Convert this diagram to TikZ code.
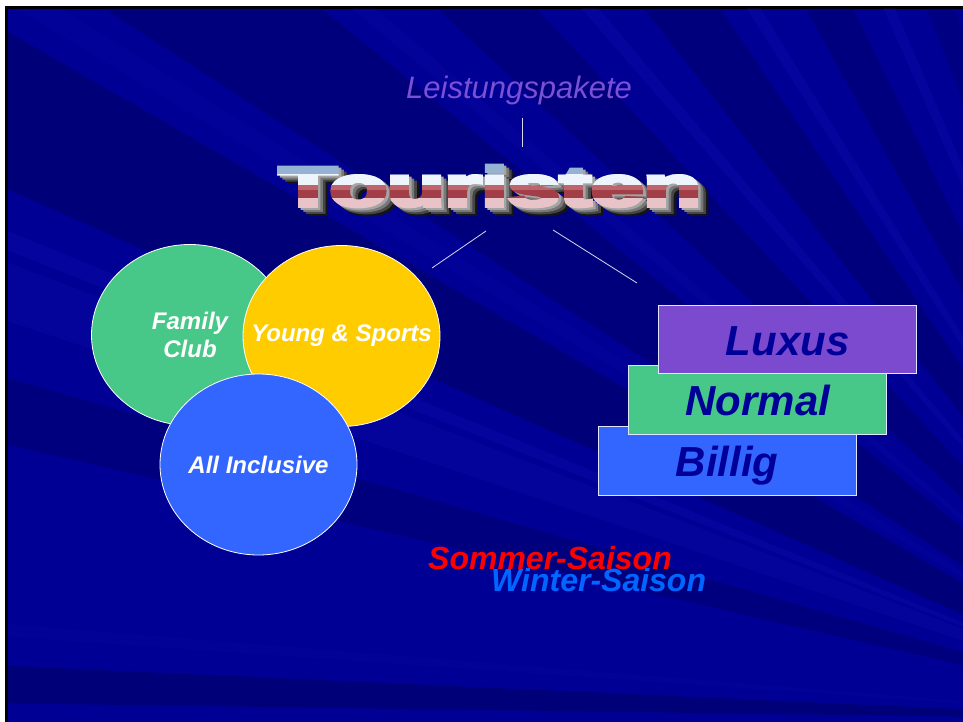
\documentclass[tikz,border=0pt]{standalone}
\usepackage{fontspec}
\setmainfont{Liberation Sans}
\usepackage{graphicx}
\usetikzlibrary{shapes.geometric}
\definecolor{bgblue}{HTML}{000094}
\definecolor{darkray}{HTML}{000050}
\definecolor{lightray}{HTML}{2A2AE0}
\definecolor{cgreen}{HTML}{48C888}
\definecolor{cyellow}{HTML}{FFCC00}
\definecolor{cblue}{HTML}{3366FF}
\definecolor{cpurple}{HTML}{7B4ACE}
\definecolor{navytext}{HTML}{000099}
\definecolor{lpurple}{HTML}{7A50D4}
\definecolor{wblue}{HTML}{0066FF}
\definecolor{lineclr}{HTML}{D8D8EC}
\newcommand{\tourword}{\fontsize{56}{60}\selectfont\bfseries\scalebox{1.68}[1]{\special{pdf:literal direct 2 Tr 3.6 w}Touristen\special{pdf:literal direct 0 Tr}}}
\tikzset{
  circ/.style={ellipse, draw=white, line width=0.8pt, inner sep=0pt,
    minimum width=197pt, minimum height=181pt},
  circtext/.style={text=white, align=center, inner sep=0pt,
    font=\fontsize{24}{28}\selectfont\bfseries\itshape},
  stackbox/.style={rectangle, draw=white!85!cblue, line width=1pt, inner sep=0pt,
    minimum width=257.7pt, minimum height=68.6pt, text height=31pt, text depth=0pt,
    text=navytext, font=\fontsize{42}{46}\selectfont\bfseries\itshape},
  conn/.style={draw=lineclr, line width=0.8pt},
  tword/.style={anchor=base west, inner sep=0pt},
  saison/.style={anchor=base west, inner sep=0pt, font=\fontsize{32}{36}\selectfont\bfseries\itshape}
}
\begin{document}
\begin{tikzpicture}[x=1pt,y=-1pt]
\useasboundingbox (0,0) rectangle (963,722);
% frame and background
\fill[white] (0,0) rectangle (963,722);
\fill[black] (5,6) rectangle (963,722);
\fill[bgblue] (8,9) rectangle (963,722);
\begin{scope}
  \clip (8,9) rectangle (963,722);
  \coordinate (F) at (1200,720);
  \foreach \a/\b/\c/\o in {
     180.8/182.6/darkray/0.4, 184/184.6/lightray/0.05,
     193/196/darkray/0.3, 198.5/201/lightray/0.1, 201.5/202.3/lightray/0.12,
     204/210/darkray/0.4, 211/212/lightray/0.07, 213/219/darkray/0.35,
     220/220.8/lightray/0.09, 223/227/darkray/0.3, 229/229.8/lightray/0.12,
     232/236/darkray/0.35, 237.5/238.3/lightray/0.13, 241/244/darkray/0.3,
     246/246.8/lightray/0.13, 249/251/darkray/0.25, 252/252.8/lightray/0.12}{
    \fill[\c, opacity=\o] (F) -- +(\a:2200) -- +(\b:2200) -- cycle;
  }
\end{scope}

% title above
\node[tword, text=lpurple, font=\fontsize{31}{36}\selectfont\itshape] (lp) at (406,99) {Leistungspakete};

% Touristen: extrusion
\foreach \k/\cc in {8/{rgb,255:red,20;green,20;blue,20}, 6/{rgb,255:red,70;green,70;blue,70},
                    4/{rgb,255:red,120;green,120;blue,120}, 2/{rgb,255:red,165;green,165;blue,165}}{
  \node[tword, text=\cc] (tx\k) at (279+1.3*\k,206+1.0*\k) {\tourword};
}
% Touristen: front face in colour bands
\foreach \ya/\yb/\cc [count=\i] in {150/175/{rgb,255:red,150;green,178;blue,210},
    175/186/{rgb,255:red,238;green,244;blue,252},
    186/191/{rgb,255:red,190;green,100;blue,106},
    191/198/{rgb,255:red,162;green,62;blue,72},
    198/220/{rgb,255:red,232;green,196;blue,200}}{
  \begin{scope}
    \clip (260,\ya) rectangle (740,\yb);
    \node[tword, text=\cc] (tf\i) at (279,206) {\tourword};
  \end{scope}
}
\coordinate (tour) at (502,187);

% connectors
\coordinate (c1a) at (522,118);
\coordinate (c1b) at (522,147);
\coordinate (c2a) at (486,231);
\coordinate (c2b) at (432,268);
\coordinate (c3a) at (553,230);
\coordinate (c3b) at (637,283);
\draw[conn] (c1a) -- (c1b);
\draw[conn] (c2a) -- (c2b);
\draw[conn] (c3a) -- (c3b);

% circles
\node[circ, fill=cgreen] (fam) at (190,335) {};
\node[circtext] (famt) at (fam.center) {Family\\Club};
\node[circ, fill=cyellow] (yng) at (341.5,336) {};
\node[circtext] (yngt) at (yng.center) {Young \& Sports};
\node[circ, fill=cblue] (all) at (258.5,464.5) {};
\node[circtext] (allt) at (all.center) {All Inclusive};

% stacked boxes
\node[stackbox, fill=cblue] (bil) at (727.2,460.8) {Billig};
\node[stackbox, fill=cgreen] (nor) at (757.8,400) {Normal};
\node[stackbox, fill=cpurple] (lux) at (787.8,339.5) {Luxus};

% seasons
\node[saison, text=red] (som) at (428,569) {Sommer-Saison};
\node[saison, text=wblue] (win) at (491,591) {Winter-Saison};
\end{tikzpicture}
\end{document}
